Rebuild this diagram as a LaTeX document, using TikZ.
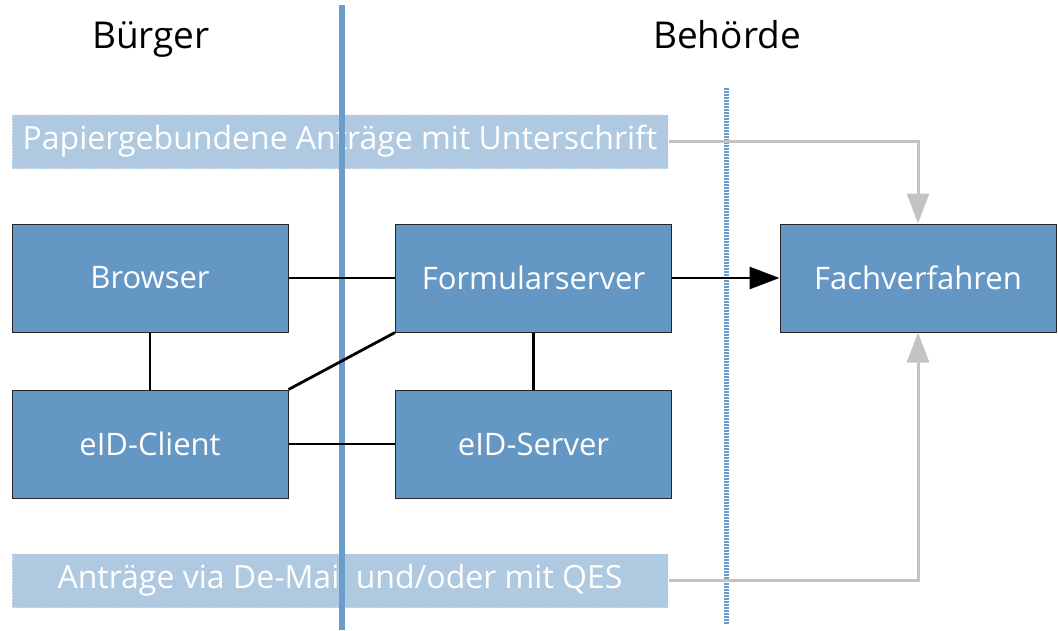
\documentclass[tikz,border=0pt]{standalone}
\usepackage{fontspec}
\setmainfont{Open Sans}
\usetikzlibrary{arrows.meta}
\definecolor{boxblue}{HTML}{6497C4}
\definecolor{lightblue}{HTML}{AFC9E1}
\definecolor{lineblue}{HTML}{6C9CC9}
\definecolor{arrowgray}{HTML}{C3C3C3}
\tikzset{
  sysbox/.style={draw=black!85, line width=1pt, fill=boxblue, text=white, minimum width=276pt, minimum height=108pt, font=\fontsize{31}{34}\selectfont, inner sep=0pt},
  bandbox/.style={draw=white!85!gray, dotted, line width=1pt, fill=lightblue, text=white, minimum width=656pt, minimum height=54pt, font=\fontsize{32}{35}\selectfont, inner sep=0pt},
  headline/.style={font=\fontsize{37}{40}\selectfont, text=black, anchor=base},
  conn/.style={draw=black, line width=2.8pt},
  grayconn/.style={draw=arrowgray, line width=3pt, -{Triangle[length=30pt,width=22pt]}},
}
\begin{document}
\begin{tikzpicture}[x=1pt,y=-1pt]
\useasboundingbox (0,0) rectangle (1058,630);
\node[headline] (buerger) at (151,48) {Bürger};
\node[headline] (behoerde) at (727,48) {Behörde};
\node[bandbox] (papier) at (340,141.5) {Papiergebundene Anträge mit Unterschrift};
\node[bandbox] (demail) at (340,580.5) {Anträge via De-Mail und/oder mit QES};
\node[sysbox] (browser) at (150,278) {Browser};
\node[sysbox] (formular) at (533.5,278) {Formularserver};
\node[sysbox] (fach) at (918,278) {Fachverfahren};
\node[sysbox] (eidc) at (150,444) {eID-Client};
\node[sysbox] (eids) at (533.5,444) {eID-Server};
\coordinate (solidtop) at (342,5);
\coordinate (solidbot) at (342,630);
\coordinate (dottop) at (726,88);
\coordinate (dotbot) at (726,625);
\draw[lineblue, line width=6pt] (solidtop) -- (solidbot);
\draw[lineblue, line width=5pt, dash pattern=on 1.5pt off 1.5pt] (dottop) -- (dotbot);
\draw[conn] (browser.east) -- (formular.west);
\draw[conn] (browser.south) -- (eidc.north);
\draw[conn] (eidc.north east) -- (formular.south west);
\draw[conn] (formular.south) -- (eids.north);
\draw[conn] (eidc.east) -- (eids.west);
\draw[conn, -{Triangle[length=30pt,width=22pt]}] (formular.east) -- (fach.west);
\draw[grayconn] (papier.east) -| (fach.north);
\draw[grayconn] (demail.east) -| (fach.south);
\end{tikzpicture}
\end{document}
